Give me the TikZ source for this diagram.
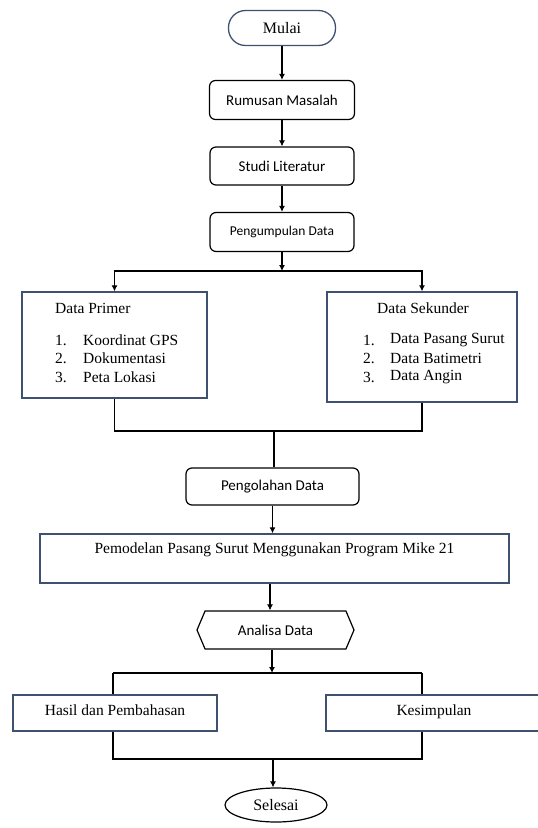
\documentclass[tikz,border=0pt]{standalone}
\usepackage{fontspec}
\setmainfont{Liberation Serif}
\newfontfamily\calibri{Carlito}
\usetikzlibrary{arrows.meta,shapes.geometric,shapes.symbols}
\definecolor{garisbiru}{HTML}{3F5170}
\begin{document}
\begin{tikzpicture}[x=1pt,y=-1pt,font=\fontsize{15.5}{18}\selectfont,
  panah/.style={-{Latex[length=6pt,width=6pt]},line width=1.1pt},
  garis/.style={line width=1.1pt},
  proses/.style={draw,line width=1.2pt,rounded corners=6pt,font=\calibri\fontsize{15}{18}\selectfont},
  kotak/.style={draw=garisbiru,line width=1.3pt},
  teks/.style={anchor=west,inner sep=0pt}]
\useasboundingbox (0,0) rectangle (538,828);

\begin{scope}
\node[kotak,rounded corners=17pt,minimum width=107pt,minimum height=35pt,font=\fontsize{16}{18}\selectfont] (mulai) at (282,28) {Mulai};
\node[proses,minimum width=145pt,minimum height=39pt] (rumusan) at (282,100) {Rumusan Masalah};
\node[proses,minimum width=144pt,minimum height=38pt] (studi) at (282,166) {Studi Literatur};
\node[proses,minimum width=144pt,minimum height=39pt,font=\calibri\fontsize{13.5}{16}\selectfont] (kumpul) at (282,232) {Pengumpulan Data};

\node[kotak,minimum width=185pt,minimum height=106pt] (primer) at (114.5,345) {};
\node[teks] (tprimer) at (55,308) {Data Primer};
\node[teks] (np1) at (55,340) {1.};
\node[teks] (ip1) at (83,340) {Koordinat GPS};
\node[teks] (np2) at (55,358) {2.};
\node[teks] (ip2) at (83,358) {Dokumentasi};
\node[teks] (np3) at (55,377) {3.};
\node[teks] (ip3) at (83,377) {Peta Lokasi};

\node[kotak,minimum width=190pt,minimum height=110pt] (sekunder) at (422,347) {};
\node[teks] (tsekunder) at (377,308) {Data Sekunder};
\node[teks] (ns1) at (363,340) {1.};
\node[teks] (is1) at (390,340) {Data Pasang Surut};
\node[teks] (ns2) at (363,358) {2.};
\node[teks] (is2) at (390,358) {Data Batimetri};
\node[teks] (ns3) at (363,377) {3.};
\node[teks] (is3) at (390,377) {Data Angin};

\node[proses,minimum width=173pt,minimum height=37pt] (olah) at (272.5,486.5) {Pengolahan Data};
\node[kotak,minimum width=469pt,minimum height=49pt,text depth=20pt] (model) at (274.5,558.5) {Pemodelan Pasang Surut Menggunakan Program Mike 21};
\node[draw,line width=1.2pt,signal,signal to=east and west,signal pointer angle=134,
  minimum width=157pt,minimum height=38pt,font=\calibri\fontsize{15}{18}\selectfont] (analisa) at (275.5,630) {Analisa Data};

\node[kotak,minimum width=204pt,minimum height=36pt,text depth=6pt] (hasil) at (115,713) {Hasil dan Pembahasan};
\node[kotak,minimum width=216pt,minimum height=36pt,text depth=6pt] (kesim) at (434,713) {Kesimpulan};
\node[draw,line width=1.2pt,ellipse,minimum width=102pt,minimum height=34pt,font=\fontsize{16}{18}\selectfont] (selesai) at (276,805) {Selesai};

\coordinate (bagi1) at (282,271);
\coordinate (gabung1) at (274,431);
\coordinate (bagi2) at (272,673);
\coordinate (kiri2) at (113,673);
\coordinate (kanan2) at (422,673);
\coordinate (gabung2) at (273,759);
\coordinate (kiri3) at (113,759);
\coordinate (kanan3) at (422,759);

\draw[panah] (mulai) -- (rumusan);
\draw[panah] (rumusan) -- (studi);
\draw[panah] (studi) -- (kumpul);
\draw[panah] (kumpul) -- (bagi1);
\draw[panah] (bagi1) -| (primer.north);
\draw[panah] (bagi1) -| (sekunder.north);
\draw[garis] (primer.south) |- (gabung1) -| (sekunder.south);
\draw[garis] (gabung1) -- (gabung1 |- olah.north);
\draw[panah] (olah.south) -- (olah.south |- model.north);
\draw[panah] (model.south -| 270,0) -- (analisa.north -| 270,0);
\draw[panah] (analisa.south -| bagi2) -- (bagi2);
\draw[garis] (kiri2) -- (kanan2);
\draw[garis] (kiri2) -- (kiri2 |- hasil.north);
\draw[garis] (kanan2) -- (kanan2 |- kesim.north);
\draw[garis] (kiri3 |- hasil.south) -- (kiri3) -- (kanan3) -- (kanan3 |- kesim.south);
\draw[panah] (gabung2) -- (gabung2 |- selesai.north);
\end{scope}

\end{tikzpicture}
\end{document}
